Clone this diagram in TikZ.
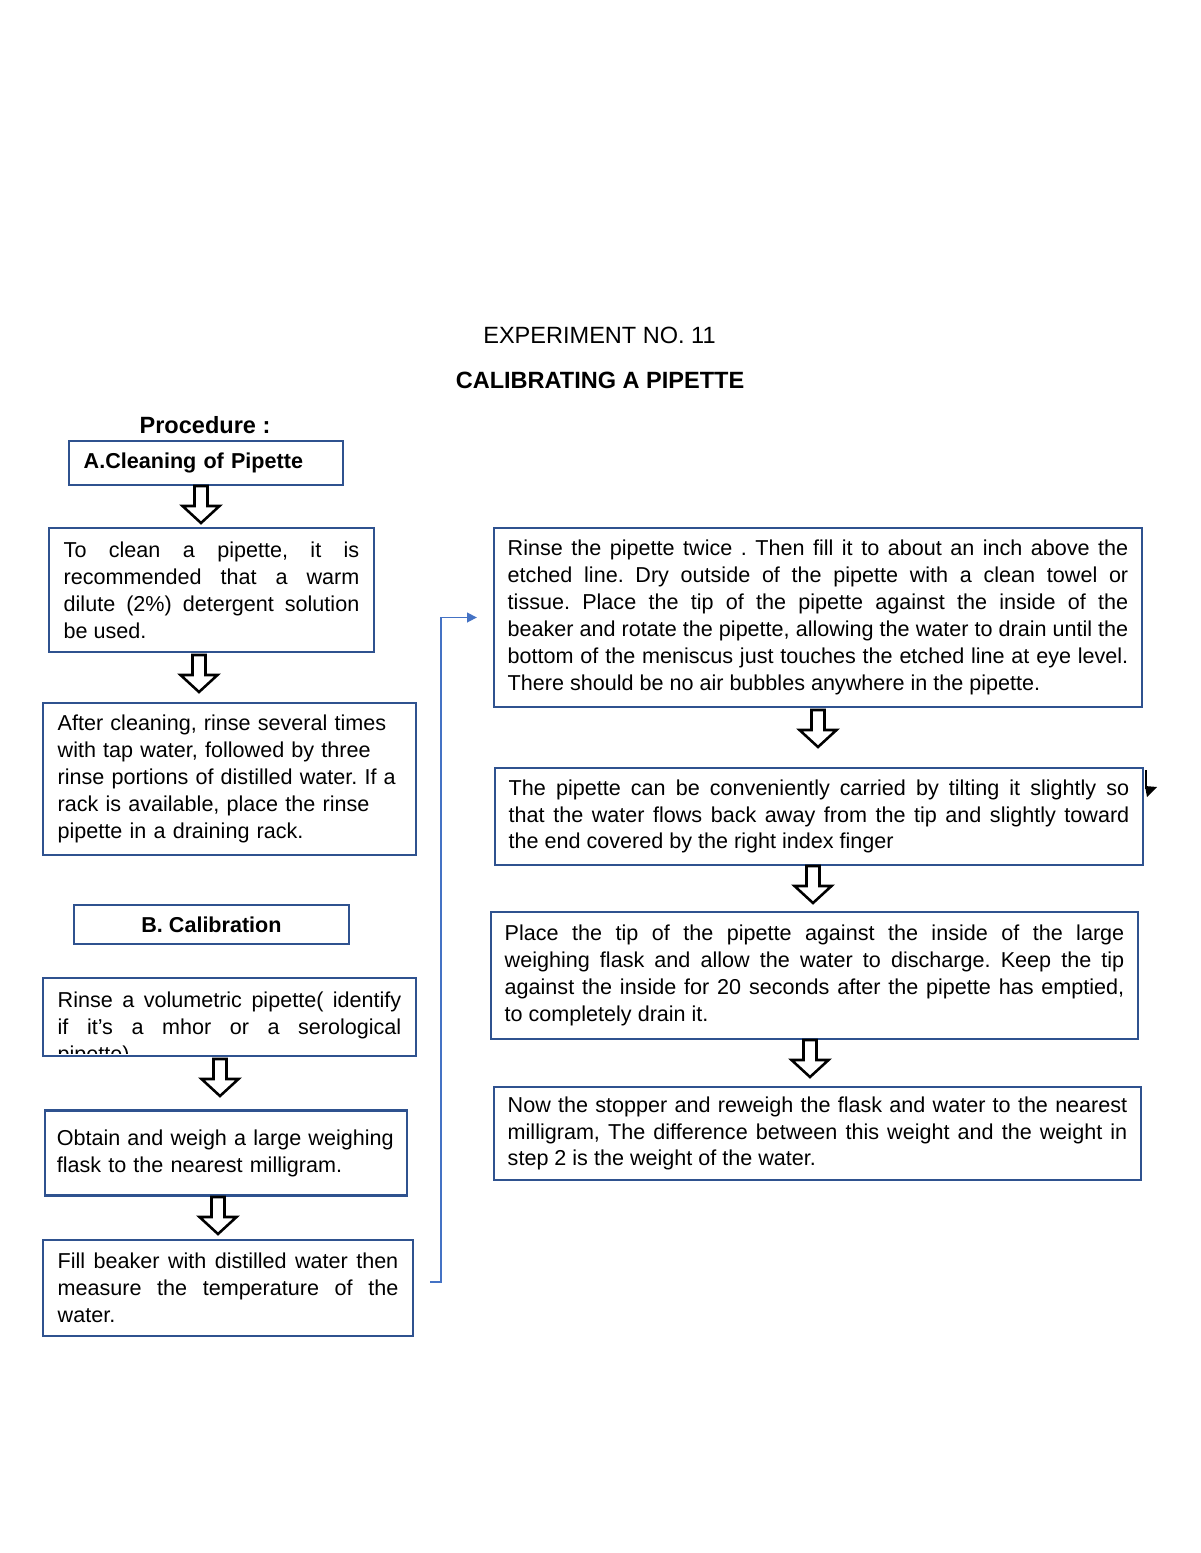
\documentclass[tikz,border=0pt]{standalone}
\usepackage{fontspec}
\setmainfont{Liberation Sans}
\usepackage{xcolor}
\usetikzlibrary{arrows.meta,calc}
\definecolor{boxblue}{HTML}{2F528F}
\definecolor{linkblue}{HTML}{4472C4}
\newcommand{\hollowdown}[1]{\draw[blockarrow] (#1) ++(-6.5,0) -- ++(0,20) -- ++(-12,0) -- ++(18.5,17) -- ++(18.5,-17) -- ++(-12,0) -- ++(0,-20) -- cycle;}
\frenchspacing
\hyphenpenalty=10000
\exhyphenpenalty=10000

\begin{document}
\begin{tikzpicture}[x=0.51pt,y=-0.51pt,
  stepbox/.style={draw=boxblue,line width=1.5pt,fill=white,inner xsep=7.5pt,inner ysep=0pt,align=justify,font=\fontsize{11}{13.7}\selectfont},
  headbox/.style={stepbox,font=\bfseries\fontsize{11}{13.7}\selectfont},
  steptext/.style={inner xsep=7.5pt,inner ysep=0pt,align=justify,font=\fontsize{11}{13.7}\selectfont},
  blockarrow/.style={draw=black,line width=1.3pt,fill=white,line join=miter},
  link/.style={draw=linkblue,line width=0.8pt,-{Triangle[length=5pt,width=5pt]}}]
  \useasboundingbox (0,0) rectangle (1200,1553);

  \node[font=\fontsize{12}{14}\selectfont] (exptitle) at (599.5,335) {EXPERIMENT NO. 11};
  \node[font=\bfseries\fontsize{12}{14}\selectfont] (exptopic) at (600,380) {CALIBRATING A PIPETTE};
  \node[font=\bfseries\fontsize{12}{14}\selectfont] (procedure) at (205,425) {Procedure :};

  \node[headbox, align=left, text width=124.74pt, minimum width=139.74pt, minimum height=22.44pt] (cleanhead) at (206,463) {A.Cleaning of Pipette};
  \node[stepbox, text width=150.75pt, minimum width=165.75pt, minimum height=63.24pt] (clean) at (211.5,590) {To clean a pipette, it is\linebreak recommended that a warm\linebreak dilute (2\%) detergent solution\linebreak be used.};
  \node[stepbox, align=left, text width=175.23pt, minimum width=190.23pt, minimum height=77.52pt] (rinsing) at (229.5,779) {After cleaning, rinse several times\\with tap water, followed by three\\rinse portions of distilled water. If a\\rack is available, place the rinse\\pipette in a draining rack.};

  \node[headbox, align=center, minimum width=140.25pt, minimum height=19.89pt] (calibhead) at (211.5,924.5) {B. Calibration};
  \node[stepbox, minimum width=190.23pt, minimum height=39.78pt] (volumetric) at (229.5,1017) {};
  \begin{scope}
    \clip (45,980) rectangle (414,1053);
    \node[steptext, text width=175.23pt] (volumetrictext) at (229.5,1029) {Rinse a volumetric pipette( identify\linebreak if it's a mhor or a serological\linebreak pipette)};
  \end{scope}
  \node[stepbox, align=left, inner xsep=6pt, text width=172.62pt, minimum width=184.62pt, minimum height=43.35pt] (weighflask) at (226,1153) {Obtain and weigh a large weighing\\flask to the nearest milligram.};
  \node[stepbox, text width=173.7pt, minimum width=188.7pt, minimum height=48.96pt] (fillbeaker) at (228,1288) {Fill beaker with distilled water then\linebreak measure the temperature of the\linebreak water.};

  \node[stepbox, inner xsep=7pt, text width=316.48pt, minimum width=330.48pt, minimum height=91.29pt] (rinsetwice) at (818,617.5) {Rinse the pipette twice . Then fill it to about an inch above the\linebreak etched line. Dry outside of the pipette with a clean towel or\linebreak tissue. Place the tip of the pipette against the inside of the\linebreak beaker and rotate the pipette, allowing the water to drain until the\linebreak bottom of the meniscus just touches the etched line at eye level.\linebreak There should be no air bubbles anywhere in the pipette.};
  \node[stepbox, inner xsep=7pt, text width=316.48pt, minimum width=330.48pt, minimum height=49.47pt] (carry) at (819,816.5) {The pipette can be conveniently carried by tilting it slightly so\linebreak that the water flows back away from the tip and slightly toward\linebreak the end covered by the right index finger};
  \node[stepbox, inner xsep=7pt, text width=315.97pt, minimum width=329.97pt, minimum height=64.77pt] (discharge) at (814.5,975.5) {Place the tip of the pipette against the inside of the large\linebreak weighing flask and allow the water to discharge. Keep the tip\linebreak against the inside for 20 seconds after the pipette has emptied,\linebreak to completely drain it.};
  \node[stepbox, inner xsep=7pt, text width=315.97pt, minimum width=329.97pt, minimum height=47.43pt] (reweigh) at (817.5,1133.5) {Now the stopper and reweigh the flask and water to the nearest\linebreak milligram, The difference between this weight and the weight in\linebreak step 2 is the weight of the water.};

  \hollowdown{201,486}
  \hollowdown{199,655}
  \hollowdown{220,1059}
  \hollowdown{218,1197}
  \hollowdown{818,710}
  \hollowdown{813,866}
  \hollowdown{810,1040}

  \coordinate (linkstart) at (430,1282);
  \draw[link, shorten >=8pt] (linkstart) -- ++(11,0) |- (rinsetwice.west);

  \coordinate (straytop) at (1146,770);
  \draw[line width=0.8pt] (straytop) -- ++(0,19);
  \fill (1145,786) -- (1157,787) -- (1147,797) -- cycle;
\end{tikzpicture}
\end{document}
